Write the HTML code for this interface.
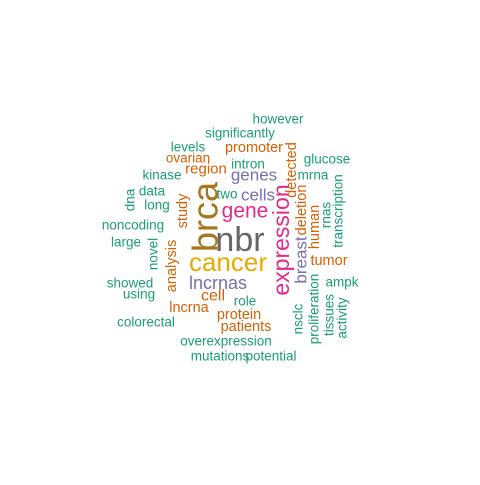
<!DOCTYPE html>
<html><head><meta charset="utf-8"><style>
html,body{margin:0;padding:0;background:#fff;}
svg text{font-family:"Liberation Sans",Arial,sans-serif;}
</style></head><body>
<svg id="cloud" width="480" height="480" viewBox="0 0 480 480" xmlns="http://www.w3.org/2000/svg">
<rect width="480" height="480" fill="#fff"/>
</svg>
<script>
const words = ["however","significantly","levels","promoter","ovarian","intron","glucose","region","kinase","genes","mrna","data","two","cells","long","dna","gene","noncoding","large","novel","study","brca","nbr","expression","detected","deletion","breast","human","rnas","transcription","tumor","ampk","analysis","cancer","showed","lncrnas","using","cell","role","lncrna","protein","colorectal","patients","nsclc","proliferation","tissues","activity","overexpression","mutations","potential"];
const sizes = [13.5,13.5,13.5,14.5,13.5,13.5,13.5,15,13.5,17,13.5,13.5,13.5,17,13.5,13.5,21,13.5,13.5,13.5,14.5,36,34,23,14.5,14.5,17,14.5,13.5,13.5,14.5,13.5,14.5,26,13.5,18,13.5,16,13.5,14.5,14.5,13.5,14.5,13.5,13.5,13.5,13.5,13.5,13.5,13.5];
const colors = ["g","g","g","o","o","g","g","o","g","p","g","g","g","p","g","g","k","g","g","g","o","b","n","k","o","o","p","o","g","g","o","g","o","y","g","p","g","o","g","o","o","g","o","g","g","g","g","g","g","g"];
const cx = [278,240,188,254,188,248,327,206,162,254,313,152,227,258,157,130,245,133,126,153,183,205,240,281,292,302,301,315,326,338,329,342,172,228,130,218,139,213,245,189,239,146,246,298,314,329,342,226,220,271];
const cy = [119,133,147,148,158,164,159,169,175,175,175,191,194,195,205,200,211,225,242,254,211,217,240,240,170,210,260,227,215,211,261,282,266,262,283,283,294,296,301,308,315,322,327,319,309,315,318,341,356,356];
const vert = [0,0,0,0,0,0,0,0,0,0,0,0,0,0,0,1,0,0,0,1,1,1,0,1,1,1,1,1,1,1,0,0,1,0,0,0,0,0,0,0,0,0,0,1,1,1,1,0,0,0];
const palette = {g:"#1B9E77",o:"#D95F02",p:"#7570B3",k:"#E7298A",b:"#A6761D",n:"#666666",y:"#E6AB02"};
const svg = document.getElementById('cloud');
const NS = "http://www.w3.org/2000/svg";
for (let i = 0; i < words.length; i++) {
  const t = document.createElementNS(NS, 'text');
  
  
  t.setAttribute('font-size', sizes[i]);
  t.setAttribute('fill', palette[colors[i]]);
  t.setAttribute('text-anchor', 'middle');
  t.setAttribute('dominant-baseline', 'central');
  if (vert[i]) {
    t.setAttribute('transform', 'translate(' + cx[i] + ',' + cy[i] + ') rotate(-90)');
    t.setAttribute('x', 0);
    t.setAttribute('y', 0);
  } else {
    t.setAttribute('x', cx[i]);
    t.setAttribute('y', cy[i]);
  }
  t.textContent = words[i];
  svg.appendChild(t);
}
</script>
</body></html>
